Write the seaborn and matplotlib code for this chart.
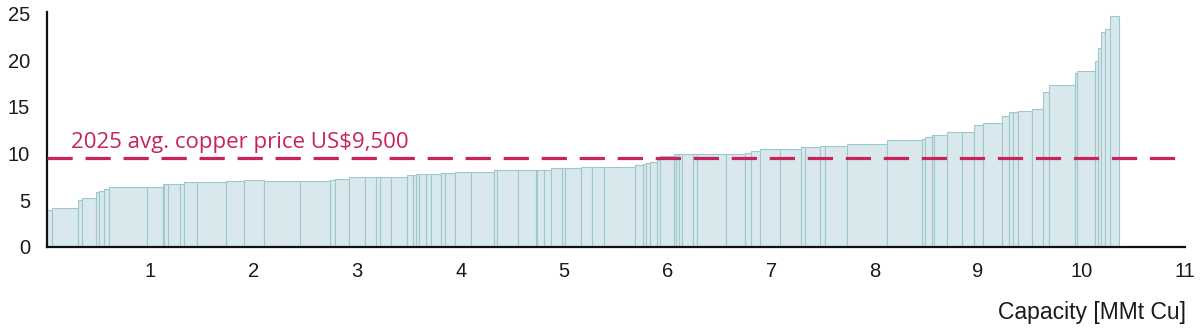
import numpy as np
import pandas as pd
import matplotlib
matplotlib.use("Agg")
import matplotlib.pyplot as plt
import seaborn as sns

# Capacity of each operation (MMt Cu), in cost order
capacity = [0.054, 0.252, 0.033, 0.136, 0.035, 0.048, 0.048, 0.362, 0.155, 0.013,
            0.039, 0.109, 0.045, 0.123, 0.284, 0.174, 0.187, 0.348, 0.290, 0.048,
            0.136, 0.155, 0.113, 0.032, 0.110, 0.155, 0.058, 0.022, 0.032, 0.065,
            0.048, 0.104, 0.032, 0.100, 0.152, 0.226, 0.026, 0.206, 0.171, 0.016,
            0.064, 0.065, 0.113, 0.022, 0.155, 0.104, 0.116, 0.303, 0.075, 0.032,
            0.039, 0.065, 0.032, 0.133, 0.022, 0.032, 0.026, 0.104, 0.039, 0.284,
            0.184, 0.051, 0.087, 0.200, 0.197, 0.039, 0.152, 0.048, 0.213, 0.384,
            0.339, 0.025, 0.072, 0.019, 0.126, 0.145, 0.116, 0.087, 0.177, 0.075,
            0.032, 0.048, 0.136, 0.104, 0.058, 0.258, 0.016, 0.171, 0.032, 0.032,
            0.039, 0.048, 0.081]
# Cost of each operation (US$k/t)
cost = [3.90, 4.15, 5.00, 5.25, 5.90, 5.95, 6.15, 6.35, 6.35, 6.70,
        6.75, 6.75, 6.75, 6.95, 6.95, 7.05, 7.10, 7.08, 7.06, 7.10,
        7.28, 7.46, 7.46, 7.46, 7.46, 7.46, 7.67, 7.70, 7.75, 7.82,
        7.82, 7.82, 7.85, 7.85, 8.03, 8.03, 8.21, 8.21, 8.21, 8.21,
        8.21, 8.25, 8.43, 8.43, 8.43, 8.60, 8.60, 8.60, 8.78, 8.85,
        8.96, 9.05, 9.30, 9.75, 9.93, 9.93, 9.93, 9.95, 9.95, 9.93,
        9.93, 10.04, 10.29, 10.50, 10.50, 10.69, 10.69, 10.85, 10.85, 11.04,
        11.42, 11.60, 11.80, 11.98, 11.98, 12.33, 12.33, 13.05, 13.30, 14.05,
        14.41, 14.41, 14.59, 14.80, 16.63, 17.39, 18.64, 18.89, 19.86, 21.33,
        23.05, 23.37, 24.77]
price_level = 9.5
price_label = "2025 avg. copper price US$9,500"
x_ticks = [1, 2, 3, 4, 5, 6, 7, 8, 9, 10, 11]
y_ticks = [0, 5, 10, 15, 20, 25]
x_title = "Capacity [MMt Cu]"

edges = np.concatenate([[0.0], np.cumsum(capacity)])
mids = (edges[:-1] + edges[1:]) / 2
df = pd.DataFrame({"x": mids, "cost": cost})

sns.set_theme(style="white")
plt.rcParams["font.family"] = ["Liberation Sans", "DejaVu Sans"]

W, H = 1202, 329
fig = plt.figure(figsize=(W / 100, H / 100), dpi=100)
ax = fig.add_axes([46.7 / W, 1 - 246.7 / H, (1185 - 46.7) / W, (246.7 - 11.7) / H])

bar_style = dict(color="#d9e8ec", edgecolor="#9fc7cf", linewidth=0.8, alpha=1.0)
try:
    sns.histplot(data=df, x="x", weights="cost", bins=[float(e) for e in edges],
                 stat="count", ax=ax, legend=False, **bar_style)
except Exception:
    ax.cla()
    ax.bar(edges[:-1], cost, width=np.diff(edges), align="edge", **bar_style)

ax.axhline(price_level, color="#c8235a", lw=2.3, linestyle=(0, (7.9, 4.0)), zorder=5)
ax.text(0.23, price_level + 0.55, price_label, color="#c8235a", fontsize=16,
        family=["Open Sans", "DejaVu Sans"], ha="left", va="bottom")

ax.set_xlim(0, 11)
ax.set_ylim(0, 25.2)
ax.set_xticks(x_ticks)
ax.set_yticks(y_ticks)
ax.tick_params(axis="both", length=0, labelsize=14.5, colors="#1a1a1a")
ax.tick_params(axis="x", pad=11)
ax.tick_params(axis="y", pad=12)
ax.set_xlabel("")
ax.set_ylabel("")
for s in ["top", "right"]:
    ax.spines[s].set_visible(False)
for s in ["left", "bottom"]:
    ax.spines[s].set_visible(True)
    ax.spines[s].set_color("#111111")
    ax.spines[s].set_linewidth(1.6)

fig.text(1186 / W, 1 - 313 / H, x_title, ha="right", va="center",
         fontsize=16.5, color="#1a1a1a")

fig.savefig("out.png", dpi=100)
